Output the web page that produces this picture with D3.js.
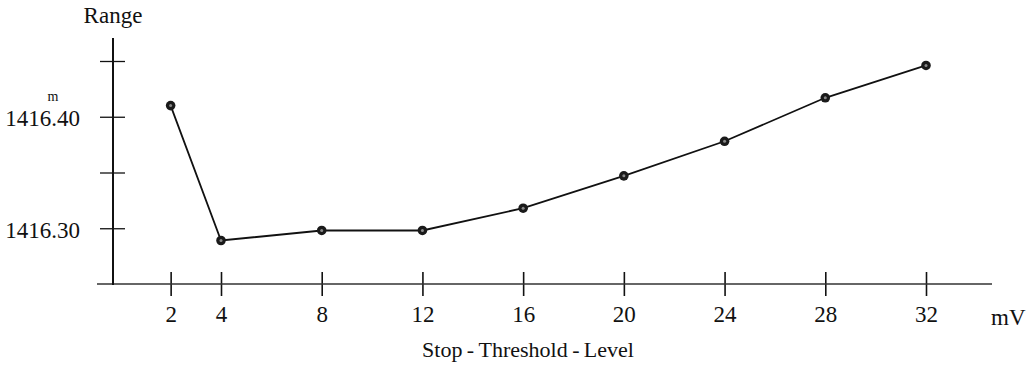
<!DOCTYPE html>
<html>
<head>
<meta charset="utf-8">
<script src="https://cdn.jsdelivr.net/npm/d3@7"></script>
<style>
  svg, svg text { font-family: 'Liberation Serif', serif !important; }
</style>
</head>
<body style="margin:0">
<svg width="1034" height="366" font-family="Liberation Serif"></svg>
<script>
// data
var levels = [2, 4, 8, 12, 16, 20, 24, 28, 32]
var ranges = [1416.41, 1416.289, 1416.298, 1416.298, 1416.318, 1416.347, 1416.378, 1416.417, 1416.446]
var xTicks = [2, 4, 8, 12, 16, 20, 24, 28, 32]
var yTicks = [1416.30, 1416.35, 1416.40, 1416.45]
var yLabels = { "1416.3": "1416.30", "1416.4": "1416.40" }

var svg = d3.select("svg")

function serif(sel, size) {
    sel.attr("font-family", "Liberation Serif")
       .attr("font-size", size)
       .attr("fill", "#111")
}

//Scales
var xScale = d3.scaleLinear().domain([4, 32]).range([221, 926])
var yScale = d3.scaleLinear().domain([1416.25, 1416.45]).range([284, 61])

var axisX = 113   // where the range axis stands
var baseY = yScale(1416.25)

//X-Axis
var xAxis = d3.axisBottom(xScale)
    .tickValues(xTicks)
    .tickSize(0)
    .tickPadding(24)
    .tickFormat(d3.format("d"))

var gx = svg.append("g")
    .attr("transform", "translate(0," + baseY + ")")
    .call(xAxis)
    .attr("font-family", "Liberation Serif")
gx.select(".domain").remove()
gx.selectAll(".tick line").attr("y1", -12).attr("y2", 12)
    .attr("stroke", "#111").attr("stroke-width", 1.6)
gx.selectAll(".tick text").call(serif, 23).attr("dy", "0.6em")

svg.append("line")
    .attr("x1", 97).attr("x2", 992)
    .attr("y1", baseY).attr("y2", baseY)
    .attr("stroke", "#333").attr("stroke-width", 1.5)

//Y-Axis
var yAxis = d3.axisLeft(yScale)
    .tickValues(yTicks)
    .tickSize(0)
    .tickPadding(33)
    .tickFormat(function(d) { return yLabels[String(+d.toFixed(2))] || "" })

var gy = svg.append("g")
    .attr("transform", "translate(" + axisX + ",0)")
    .call(yAxis)
    .attr("font-family", "Liberation Serif")
gy.select(".domain").remove()
gy.selectAll(".tick line").attr("x1", -13).attr("x2", 12)
    .attr("stroke", "#111").attr("stroke-width", 1.3)
gy.selectAll(".tick text").call(serif, 23).attr("dy", "0.4em")

svg.append("line")
    .attr("x1", axisX).attr("x2", axisX)
    .attr("y1", 38).attr("y2", baseY + 1)
    .attr("stroke", "#111").attr("stroke-width", 2)

// unit mark above 1416.40
svg.append("text")
    .attr("x", 53).attr("y", yScale(1416.40) - 16)
    .attr("text-anchor", "middle")
    .call(serif, 14)
    .text("m")

//Labels
svg.append("text")
    .attr("x", 113).attr("y", 23)
    .attr("text-anchor", "middle")
    .call(serif, 23)
    .text("Range")

svg.append("text")
    .attr("x", 991).attr("y", 325)
    .call(serif, 23)
    .text("mV")

svg.append("text")
    .attr("x", 528).attr("y", 357)
    .attr("text-anchor", "middle")
    .call(serif, 22)
    .text("Stop\u2009-\u2009Threshold\u2009-\u2009Level")

//Line
var pts = levels.map(function(d, i) { return [d, ranges[i]] })
var line = d3.line()
    .x(function(d) { return xScale(d[0]) })
    .y(function(d) { return yScale(d[1]) })

svg.append("path")
    .datum(pts)
    .attr("d", line)
    .attr("fill", "none")
    .attr("stroke", "#111")
    .attr("stroke-width", 1.8)

var dots = svg.selectAll(".dot").data(pts).enter().append("g")
    .attr("transform", function(d) { return "translate(" + xScale(d[0]) + "," + yScale(d[1]) + ")" })
dots.append("circle").attr("r", 4.8).attr("fill", "#1a1a1a")
dots.append("circle").attr("r", 1.5).attr("fill", "#888")
</script>
</body>
</html>
